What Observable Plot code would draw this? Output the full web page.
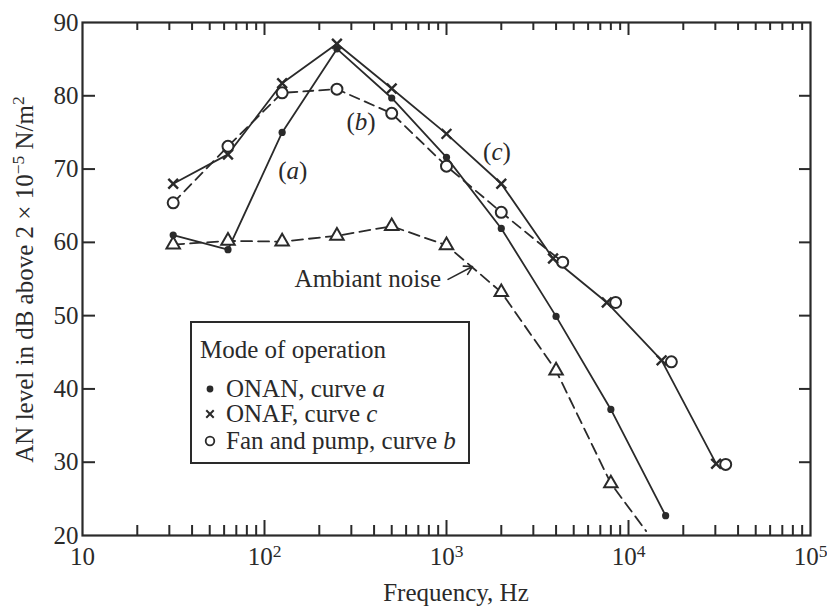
<!DOCTYPE html>
<html><head><meta charset="utf-8">
<script src="https://cdn.jsdelivr.net/npm/d3@7"></script>
<script src="https://cdn.jsdelivr.net/npm/@observablehq/plot@0.6"></script>
<style>
body{margin:0;background:#fff;overflow:hidden;}
</style></head><body><div id="chart"></div>
<script>
// ---- data ----
const onanFreq  = [31.5, 63, 125, 250, 500, 1000, 2000, 4000, 8000, 16000];
const onanLevel = [61, 59, 75, 86.4, 79.7, 71.6, 61.9, 49.9, 37.2, 22.7];
const onafFreq  = [31.5, 63, 125, 250, 500, 1000, 2000, 3850, 7600, 15200, 30300];
const onafLevel = [68, 72, 81.7, 87.1, 81, 74.8, 68, 57.8, 51.8, 43.9, 29.8];
const fanFreq   = [31.5, 63, 125, 250, 500, 1000, 2000, 4350, 8500, 17200, 34200];
const fanLevel  = [65.4, 73.1, 80.4, 80.9, 77.6, 70.4, 64.1, 57.3, 51.8, 43.7, 29.7];
const ambFreq   = [31.5, 63, 125, 250, 500, 1000, 2000, 4000, 8000];
const ambLevel  = [59.7, 60.2, 60.1, 60.9, 62.2, 59.6, 53.2, 42.5, 27.1];
const ambTailFreq = 12500, ambTailLevel = 20.6;   // dashed line runs on to the axis
const fanDashedCount = 8;                          // dashed curve b joins curve c after 4 kHz
const xMajorTicks = [10, 100, 1000, 10000, 100000];
const xTickLabels = ["10", "10^2", "10^3", "10^4", "10^5"];
const xMinorMult  = [2, 3, 4, 5, 6, 7, 8, 9];
const yTicks = [20, 30, 40, 50, 60, 70, 80, 90];
const curveLabels = [{t: "a", f: 144, v: 69.7}, {t: "b", f: 341, v: 76.4}, {t: "c", f: 1905, v: 72.3}];
const noiseLabel = {t: "Ambiant noise", f: 940, v: 53.85};
const noiseArrow = {f1: 1020, v1: 54.95, f2: 1390, v2: 56.7};
const legendItems = [
  {sym: "dot", pre: "ONAN, curve ", it: "a"},
  {sym: "times", pre: "ONAF, curve ", it: "c"},
  {sym: "circle", pre: "Fan and pump, curve ", it: "b"}
];

// ---- build ----
const INK = "#2a2a2a";
const FONT = "Liberation Serif";
const W = 827, H = 606, ML = 82, MR = 17, MT = 22, MB = 71;
const FW = W - ML - MR, FH = H - MT - MB;
const toRows = (fs, vs) => fs.map((f, i) => ({f, v: vs[i]}));
const onan = toRows(onanFreq, onanLevel);
const onaf = toRows(onafFreq, onafLevel);
const fan = toRows(fanFreq, fanLevel);
const amb = toRows(ambFreq, ambLevel);
const ambLine = [...amb, {f: ambTailFreq, v: ambTailLevel}];
const fanLine = fan.slice(0, fanDashedCount);
const xMinor = [];
for (let k = 0; k < xMajorTicks.length - 1; k++) for (const m of xMinorMult) xMinor.push(m * xMajorTicks[k]);
const xInner = xMajorTicks.slice(1, -1);
const yInner = yTicks.slice(1, -1);
const TK = {stroke: INK, strokeWidth: 2};

const chart = Plot.plot({
  width: W, height: H,
  marginLeft: ML, marginRight: MR, marginTop: MT, marginBottom: MB,
  style: {fontFamily: FONT, fontSize: "25px", color: INK, background: "white"},
  x: {type: "log", domain: [10, 100000]},
  y: {domain: [20, 90]},
  marks: [
    Plot.axisX({ticks: xMajorTicks, tickSize: 0, tickPadding: 12, label: null,
      tickFormat: d => xTickLabels[xMajorTicks.indexOf(d)], fill: INK}),
    Plot.axisY({ticks: yTicks, tickSize: 0, tickPadding: 4, label: null, tickFormat: d => String(d), fill: INK}),
    // curves
    Plot.line(ambLine, {x: "f", y: "v", stroke: INK, strokeWidth: 1.8, strokeDasharray: "11,6"}),
    Plot.line(fanLine, {x: "f", y: "v", stroke: INK, strokeWidth: 1.8, strokeDasharray: "10,6"}),
    Plot.line(onaf, {x: "f", y: "v", stroke: INK, strokeWidth: 1.8}),
    Plot.line(onan, {x: "f", y: "v", stroke: INK, strokeWidth: 1.8}),
    Plot.arrow([noiseArrow], {x1: "f1", y1: "v1", x2: "f2", y2: "v2", stroke: INK, strokeWidth: 1.6, headLength: 9, bend: 0}),
    // markers
    Plot.dot(amb, {x: "f", y: "v", symbol: "triangle", r: 5, stroke: INK, strokeWidth: 2, fill: "white"}),
    Plot.dot(fan, {x: "f", y: "v", symbol: "circle", r: 5.5, stroke: INK, strokeWidth: 2, fill: "white"}),
    Plot.dot(onaf, {x: "f", y: "v", symbol: "times", r: 4.5, stroke: INK, strokeWidth: 2.4}),
    Plot.dot(onan, {x: "f", y: "v", symbol: "circle", r: 3.6, fill: INK, stroke: "none"}),
    Plot.frame({stroke: INK, strokeWidth: 2.2}),
    // inward ticks on all four sides (drawn last)
    Plot.tickX(xMinor, {x: d => d, insetTop: FH - 10, ...TK}),
    Plot.tickX(xInner, {x: d => d, insetTop: FH - 15, ...TK}),
    Plot.tickX(xMinor, {x: d => d, insetBottom: FH - 8, ...TK}),
    Plot.tickX(xInner, {x: d => d, insetBottom: FH - 13, ...TK}),
    Plot.tickY(yInner, {y: d => d, insetRight: FW - 13, ...TK}),
    Plot.tickY(yInner, {y: d => d, insetLeft: FW - 11, ...TK})
  ]
});
document.getElementById("chart").appendChild(chart);

// ---- superscripts, italics, legend: placed through the plot's scales ----
const svg = d3.select(chart);
const sx = chart.scale("x"), sy = chart.scale("y");

svg.selectAll('[aria-label="x-axis tick label"] text').each(function() {
  const s = this.textContent;
  if (s.includes("^")) {
    const [b, e] = s.split("^");
    const t = d3.select(this); t.text(b);
    t.append("tspan").attr("font-size", "70%").attr("dy", "-0.5em").text(e);
  }
});

const g = svg.append("g").attr("font-family", FONT).attr("font-size", 25).attr("fill", INK)
  .attr("text-anchor", "start");

// y title
const yt = g.append("text").attr("text-anchor", "middle")
  .attr("transform", `translate(33,${(MT + H - MB) / 2 + 1}) rotate(-90)`);
yt.append("tspan").text("AN level in dB above 2 × 10");
yt.append("tspan").attr("font-size", "70%").attr("dy", "-0.5em").text("−5");
yt.append("tspan").attr("dy", "0.35em").text(" N/m");
yt.append("tspan").attr("font-size", "70%").attr("dy", "-0.5em").text("2");

// x title
g.append("text").attr("text-anchor", "middle")
  .attr("x", (ML + W - MR) / 2 + 10).attr("y", H - 5).text("Frequency, Hz");

// curve labels
for (const c of curveLabels) {
  const t = g.append("text").attr("text-anchor", "middle").attr("dy", "0.33em")
    .attr("x", sx.apply(c.f)).attr("y", sy.apply(c.v));
  t.append("tspan").text("(");
  t.append("tspan").attr("font-style", "italic").text(c.t);
  t.append("tspan").text(")");
}
g.append("text").attr("text-anchor", "end")
  .attr("x", sx.apply(noiseLabel.f)).attr("y", sy.apply(noiseLabel.v)).text(noiseLabel.t);

// legend box
const lg = g.append("g");
lg.append("rect").attr("x", 191).attr("y", 322).attr("width", 278).attr("height", 141)
  .attr("fill", "white").attr("stroke", INK).attr("stroke-width", 2);
lg.append("text").attr("text-anchor", "start").attr("x", 200).attr("y", 358).text("Mode of operation");
legendItems.forEach((it, i) => {
  const yb = [397, 422, 449][i];
  const cy = yb - 8;
  if (it.sym === "dot") lg.append("circle").attr("cx", 210).attr("cy", cy).attr("r", 3.4).attr("fill", INK);
  if (it.sym === "times") lg.append("path").attr("transform", `translate(210,${cy})`)
    .attr("d", d3.symbol(d3.symbolTimes, 38)()).attr("stroke", INK).attr("stroke-width", 2).attr("fill", "none");
  if (it.sym === "circle") lg.append("circle").attr("cx", 210).attr("cy", cy).attr("r", 4.3)
    .attr("fill", "white").attr("stroke", INK).attr("stroke-width", 1.8);
  const t = lg.append("text").attr("text-anchor", "start").attr("x", 226).attr("y", yb);
  t.append("tspan").text(it.pre);
  t.append("tspan").attr("font-style", "italic").text(it.it);
});
</script></body></html>
